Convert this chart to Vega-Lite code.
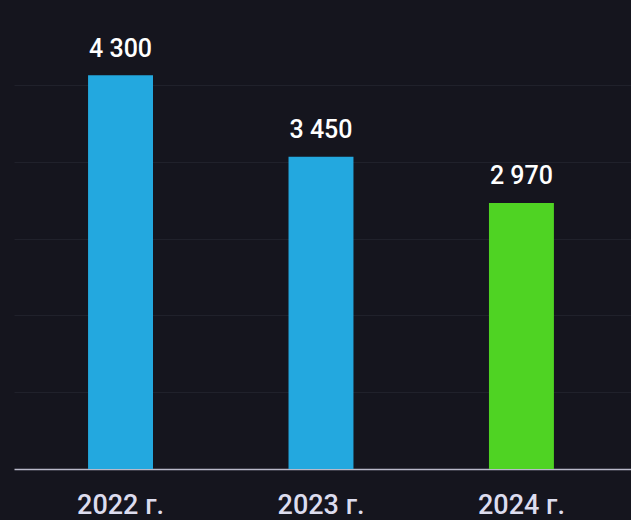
{
  "$schema": "https://vega.github.io/schema/vega-lite/v6.json",
  "width": 617,
  "height": 461,
  "autosize": {"type": "none"},
  "padding": {"left": 14, "top": 8, "right": 0, "bottom": 51},
  "background": "#15151e",
  "config": {
    "view": {"stroke": null},
    "font": "Roboto"
  },
  "data": {
    "values": [
      {"year": "2022 г.", "value": 4300, "label": "4 300", "color": "#23a8df"},
      {"year": "2023 г.", "value": 3450, "label": "3 450", "color": "#23a8df"},
      {"year": "2024 г.", "value": 2970, "label": "2 970", "color": "#4fd323"}
    ]
  },
  "encoding": {
    "x": {
      "field": "year",
      "type": "nominal",
      "sort": null,
      "scale": {"paddingInner": 0.676, "paddingOuter": 0.377, "align": 0.49},
      "axis": {
        "title": null,
        "labelAngle": 0,
        "ticks": false,
        "tickSize": 0,
        "labelPadding": 23,
        "labelFontSize": 27,
        "labelFont": "Roboto",
        "labelFontWeight": 500,
        "labelColor": "#dcdcee",
        "domainColor": "#b9b9c9",
        "domainWidth": 1.5
      }
    },
    "y": {
      "field": "value",
      "type": "quantitative",
      "scale": {"domain": [200, 5000], "zero": false, "nice": false},
      "axis": {
        "title": null,
        "labels": false,
        "ticks": false,
        "domain": false,
        "values": [1000, 1800, 2600, 3400, 4200],
        "gridColor": "#20212b",
        "gridWidth": 1
      }
    }
  },
  "layer": [
    {
      "mark": {"type": "bar", "clip": true},
      "encoding": {
        "color": {"field": "color", "type": "nominal", "scale": null, "legend": null}
      }
    },
    {
      "mark": {
        "type": "text",
        "baseline": "alphabetic",
        "dy": -18.5,
        "fontSize": 25,
        "fontWeight": 500,
        "font": "Roboto",
        "color": "#ffffff"
      },
      "encoding": {
        "text": {"field": "label"}
      }
    }
  ]
}
